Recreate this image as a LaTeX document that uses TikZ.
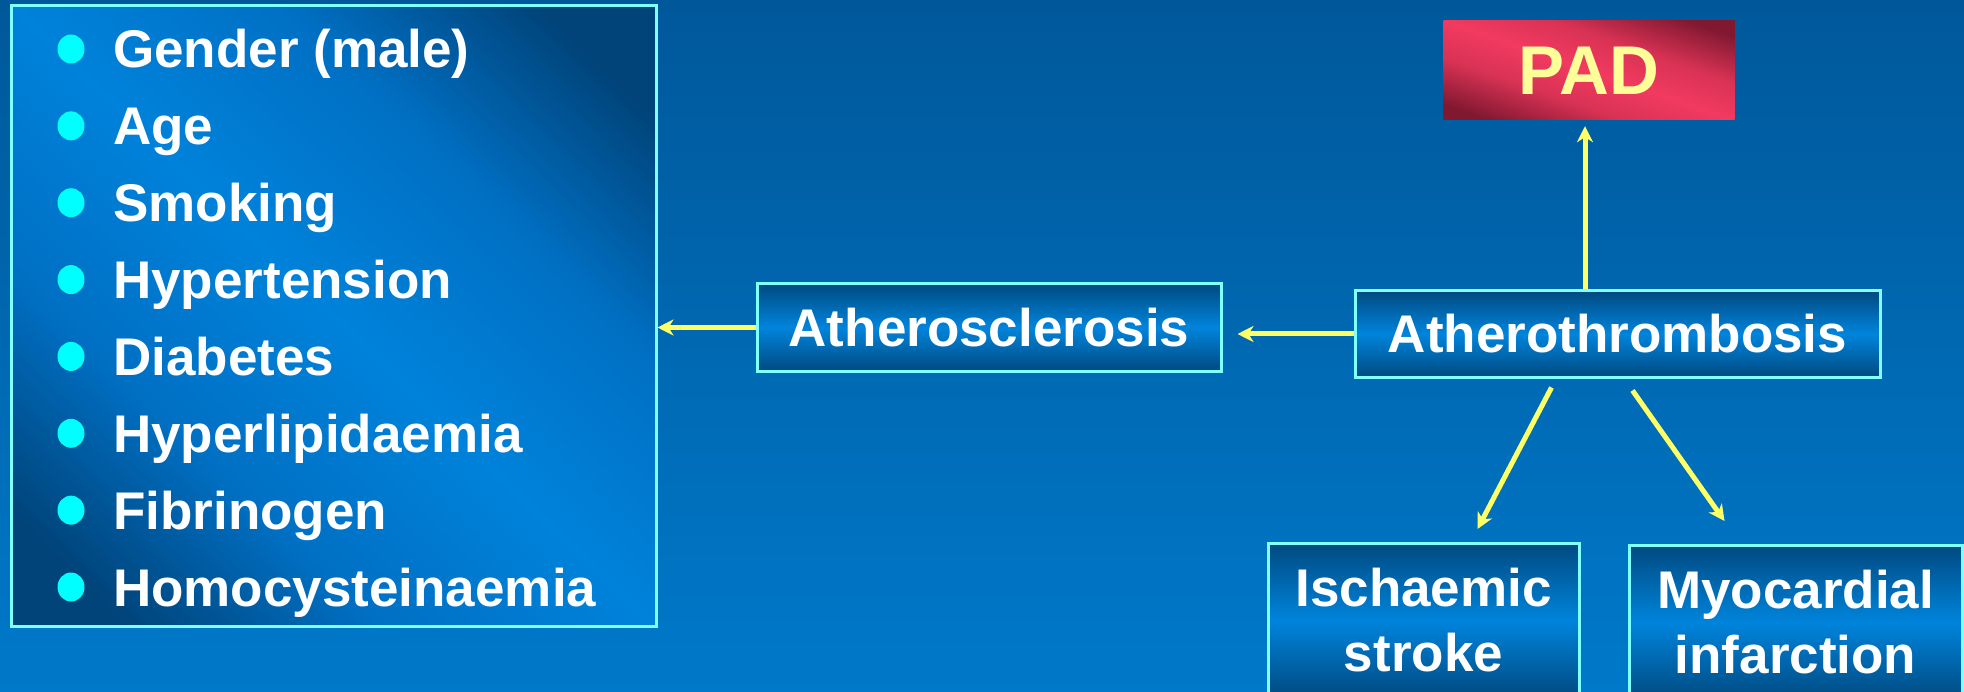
\documentclass[tikz,border=0pt]{standalone}
\usepackage{fontspec}
\setmainfont{Liberation Sans}
\usetikzlibrary{arrows.meta,calc,shapes.geometric}
\definecolor{bgtop}{HTML}{00589A}
\definecolor{bgbot}{HTML}{0079CA}
\definecolor{bord}{HTML}{80FFFF}
\definecolor{bxdark}{HTML}{004A80}
\definecolor{bxlight}{HTML}{0084DC}
\definecolor{lbdark}{HTML}{00447A}
\definecolor{lbmid}{HTML}{0070C4}
\definecolor{lblight}{HTML}{0082DA}
\definecolor{paddark}{HTML}{801830}
\definecolor{padmid}{HTML}{D83254}
\definecolor{padlight}{HTML}{F23A60}
\definecolor{padtext}{HTML}{FFFF99}
\definecolor{arrowcol}{HTML}{FFFF66}
\definecolor{bulletcol}{HTML}{00FFFF}
\pgfdeclareverticalshading{lbridge}{100bp}{color(0bp)=(lbdark); color(21bp)=(lbdark); color(35bp)=(lbmid); color(50bp)=(lblight); color(65bp)=(lbmid); color(79bp)=(lbdark); color(100bp)=(lbdark)}
\pgfdeclareverticalshading{padridge}{100bp}{color(0bp)=(paddark); color(23bp)=(paddark); color(38bp)=(padmid); color(50bp)=(padlight); color(62bp)=(padmid); color(77bp)=(paddark); color(100bp)=(paddark)}
\tikzset{
  txt/.style={font=\bfseries\fontsize{53}{65}\selectfont, text=white},
  boxstyle/.style={draw=bord, line width=3pt, top color=bxdark, bottom color=bxdark,
    middle color=bxlight, inner sep=0pt, txt, align=center},
  arr/.style={draw=arrowcol, line width=5pt, -{Stealth[length=16pt,width=16pt,inset=5pt]}},
  bulletdot/.style={ellipse, fill=bulletcol, minimum width=27pt, minimum height=29pt, inner sep=0pt},
  itemtxt/.style={txt, anchor=base west, inner sep=0pt},
}
\begin{document}
\begin{tikzpicture}[x=1pt,y=-1pt]
\useasboundingbox (0,0) rectangle (1964,692);
\clip (0,0) rectangle (1964,692);
\shade[top color=bgtop, bottom color=bgbot] (0,0) rectangle (1964,692);

% risk factor box
\node[draw=bord, line width=3pt, minimum width=645pt, minimum height=620pt, inner sep=0pt,
      shading=lbridge, shading angle=-44]
      (risk) at (333.5,316) {};
\foreach \t [count=\i] in {Gender (male), Age, Smoking, Hypertension, Diabetes,
    Hyperlipidaemia, Fibrinogen, Homocysteinaemia}{
  \node[bulletdot] (bul\i) at (71,{49+76.86*(\i-1)}) {};
  \node[itemtxt] (item\i) at (113,{68+76.86*(\i-1)}) {\t};
}

% main boxes
\node[boxstyle, minimum width=464pt, minimum height=87pt] (scl) at (989,327.5) {Atherosclerosis};
\node[boxstyle, minimum width=525pt, minimum height=86pt] (thr) at (1617.5,334) {Atherothrombosis};
\node[minimum width=291pt, minimum height=99pt, inner sep=0pt,
      shading=padridge, shading angle=-19,
      font=\bfseries\fontsize{69}{80}\selectfont, text=padtext] (pad) at (1589,70.5) {PAD};
\node[boxstyle, anchor=north, minimum width=311pt, minimum height=154pt] (isc) at (1423.5,542) {Ischaemic\\stroke};
\node[boxstyle, anchor=north, minimum width=333pt, minimum height=154pt] (myo) at (1795.5,544) {Myocardial\\infarction};

% connectors
\draw[arr] (scl.west) -- (scl.west -| risk.east);
\draw[arr, shorten >=15pt] (thr.west) -- (thr.west -| scl.east);
\draw[arr] ($(thr.north)+(-32.5,0)$) -- ($(pad.south)+(-4,6)$);
\draw[arr] ($(thr.south)+(-66,9)$) -- ($(isc.north)+(54,-13)$);
\draw[arr] ($(thr.south)+(15,12)$) -- ($(myo.north)+(-71,-23)$);
\end{tikzpicture}
\end{document}
